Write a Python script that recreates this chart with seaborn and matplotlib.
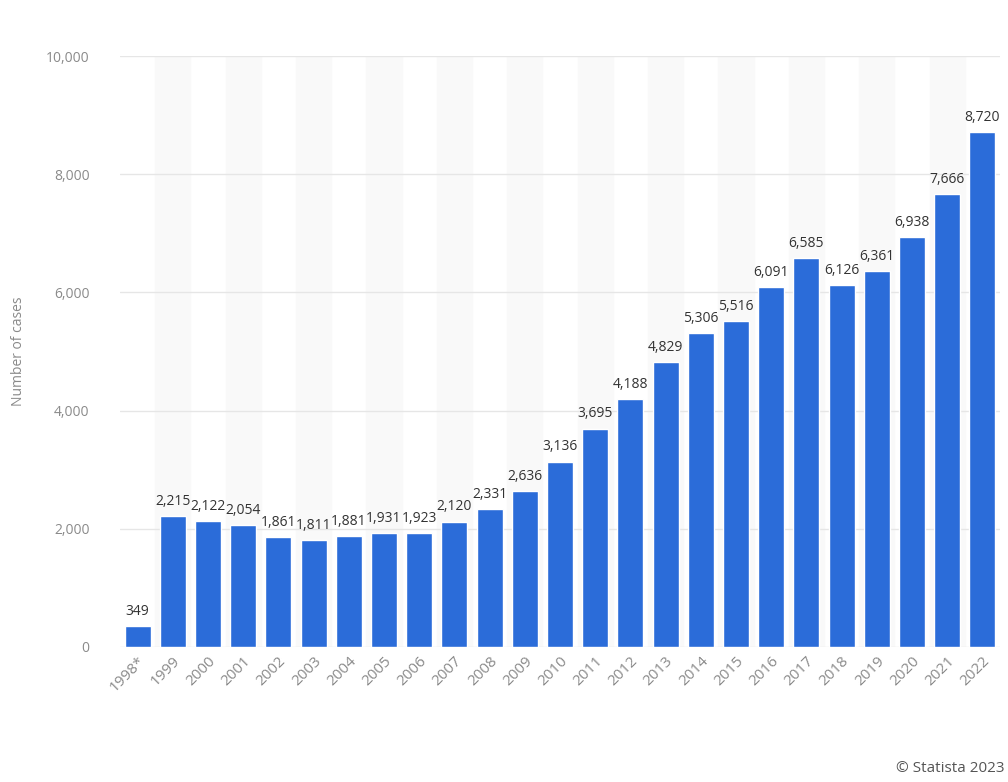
import matplotlib
matplotlib.use("Agg")
import matplotlib.pyplot as plt
import seaborn as sns
import pandas as pd

years = ["1998*", "1999", "2000", "2001", "2002", "2003", "2004", "2005", "2006", "2007",
         "2008", "2009", "2010", "2011", "2012", "2013", "2014", "2015", "2016", "2017",
         "2018", "2019", "2020", "2021", "2022"]
cases = [349, 2215, 2122, 2054, 1861, 1811, 1881, 1931, 1923, 2120,
         2331, 2636, 3136, 3695, 4188, 4829, 5306, 5516, 6091, 6585,
         6126, 6361, 6938, 7666, 8720]
yticks = [0, 2000, 4000, 6000, 8000, 10000]

sns.set_theme(style="white")
plt.rcParams['font.family'] = ['Open Sans', 'DejaVu Sans']

df = pd.DataFrame({"year": years, "cases": cases})
fig = plt.figure(figsize=(10.08, 7.82), dpi=100)
ax = fig.add_axes([0.119, 0.173, 0.873, 0.755])

for i in range(len(years)):
    if i % 2 == 1:
        ax.axvspan(i - 0.5, i + 0.5, color="#f9f9f9", zorder=0)

sns.barplot(data=df, x="year", y="cases", color="#2b6cd9", width=0.74, saturation=1,
            ax=ax, zorder=3)

ax.set_ylim(0, 10000)
ax.set_xlim(-0.5, len(years) - 0.5)
ax.set_yticks(yticks)
ax.set_yticklabels([f"{v:,}" for v in yticks], color="#8a8a8a", fontsize=10)
ax.yaxis.grid(True, color="#e6e6e6", linewidth=1, zorder=1)
ax.set_axisbelow(True)
ax.tick_params(axis="y", length=0, pad=22)
ax.tick_params(axis="x", length=0, pad=5)
plt.setp(ax.get_xticklabels(), rotation=45, ha="right", rotation_mode="anchor",
         color="#8a8a8a", fontsize=11)
for s in ax.spines.values():
    s.set_visible(False)
ax.set_xlabel("")
ax.set_ylabel("Number of cases", color="#8a8a8a", fontsize=10, labelpad=14)

for i, v in enumerate(cases):
    ax.text(i, v + 120, f"{v:,}", ha="center", va="bottom", fontsize=10,
            color="#333333", zorder=5)

fig.text(0.997, 0.008, "© Statista 2023", fontsize=11, color="#555555", ha="right", va="bottom")

fig.savefig("out.png", dpi=100)
